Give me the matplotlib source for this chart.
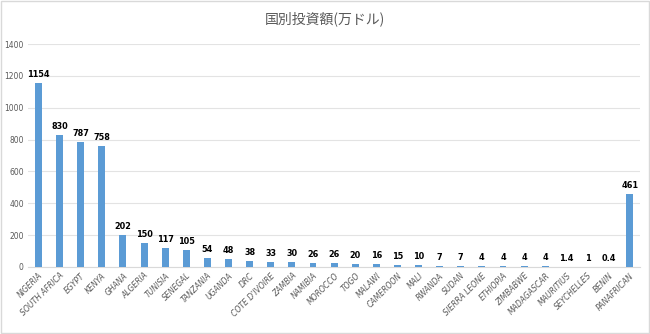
import matplotlib
matplotlib.use("Agg")
import matplotlib.pyplot as plt
from matplotlib.patches import Rectangle

plt.rcParams['font.family'] = ['Noto Sans CJK JP', 'DejaVu Sans']

countries = ["NIGERIA", "SOUTH AFRICA", "EGYPT", "KENYA", "GHANA", "ALGERIA", "TUNISIA",
             "SENEGAL", "TANZANIA", "UGANDA", "DRC", "COTE D'IVOIRE", "ZAMBIA", "NAMIBIA",
             "MOROCCO", "TOGO", "MALAWI", "CAMEROON", "MALI", "RWANDA", "SUDAN",
             "SIERRA LEONE", "ETHIOPIA", "ZIMBABWE", "MADAGASCAR", "MAURITIUS",
             "SEYCHELLES", "BENIN", "PANAFRICAN"]
values = [1154, 830, 787, 758, 202, 150, 117, 105, 54, 48, 38, 33, 30, 26, 26, 20, 16, 15,
          10, 7, 7, 4, 4, 4, 4, 1.4, 1, 0.4, 461]
labels = ["1154", "830", "787", "758", "202", "150", "117", "105", "54", "48", "38", "33",
          "30", "26", "26", "20", "16", "15", "10", "7", "7", "4", "4", "4", "4", "1.4",
          "1", "0.4", "461"]
yticks = [0, 200, 400, 600, 800, 1000, 1200, 1400]
title = "国別投資額(万ドル)"

fig = plt.figure(figsize=(6.5, 3.34), dpi=100)
fig.patch.set_facecolor('white')
fig.patches.append(Rectangle((0.002, 0.003), 0.996, 0.994, transform=fig.transFigure,
                             fill=False, edgecolor='#D9D9D9', linewidth=1.0))
ax = fig.add_axes([0.043, 0.2006, 0.942, 0.6674])
x = range(len(countries))
ax.bar(x, values, width=0.33, color='#5B9BD5', zorder=3)
ax.set_xlim(-0.5, len(countries) - 0.5)
ax.set_ylim(0, 1400)
ax.set_yticks(yticks)
ax.set_yticklabels([str(t) for t in yticks], fontsize=5.5, color='#595959', family='DejaVu Sans')
ax.set_xticks(list(x))
ax.set_xticklabels(countries, rotation=45, ha='right', rotation_mode='anchor',
                   fontsize=5.5, color='#595959', style='italic', family='DejaVu Sans')
ax.tick_params(axis='both', length=0, pad=3)
ax.grid(axis='y', color='#E3E3E3', linewidth=0.8, zorder=0)
for s in ['top', 'right', 'left']:
    ax.spines[s].set_visible(False)
ax.spines['bottom'].set_color('#D9D9D9')
for xi, v, lab in zip(x, values, labels):
    ax.text(xi, v + 25, lab, ha='center', va='bottom', fontsize=6.5, fontweight='bold',
            color='black', family='DejaVu Sans', fontstretch='condensed')
fig.text(0.5, 0.945, title, ha='center', va='center', fontsize=10, color='#595959')
fig.savefig("out.png", dpi=100)
